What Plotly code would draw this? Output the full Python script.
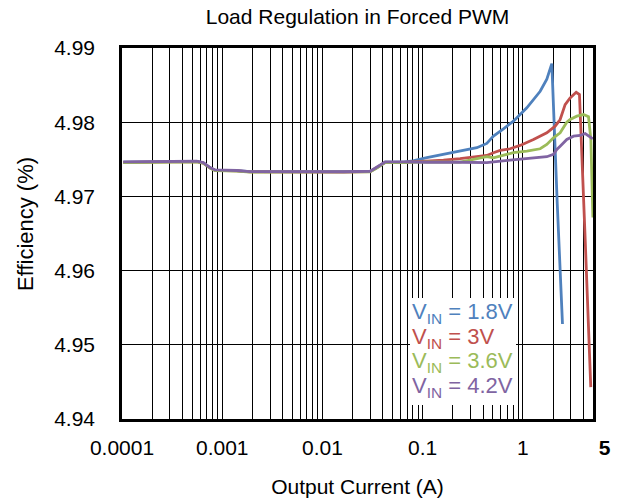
import math
import plotly.graph_objects as go

# ---------------- data ----------------
low_x = [0.000103, 0.000351, 0.000556, 0.000647, 0.000755, 0.000847, 0.001026, 0.001396,
         0.00189, 0.0075, 0.0162, 0.0299, 0.0348, 0.0422, 0.0642]
low_y = [4.97462, 4.97462, 4.97472, 4.97453, 4.97387, 4.97355, 4.97355, 4.97347,
         4.97333, 4.9733, 4.9733, 4.97337, 4.97387, 4.97462, 4.97462]

blue_x = [0.08, 0.110, 0.161, 0.236, 0.347, 0.436, 0.508, 0.639, 0.804, 1.093, 1.486, 1.731, 1.942, 2.20, 2.48]
blue_y = [4.9748, 4.97522, 4.97566, 4.97610, 4.97656, 4.97714, 4.97812, 4.97911, 4.98013, 4.98194,
          4.98417, 4.98580, 4.98789, 4.96900, 4.95281]

red_x = [0.08, 0.110, 0.161, 0.236, 0.347, 0.436, 0.508, 0.592, 0.745, 0.937, 1.274, 1.731, 2.096,
         2.351, 2.636, 2.957, 3.396, 3.664, 4.178, 4.75]
red_y = [4.97465, 4.9747, 4.97489, 4.97508, 4.97535, 4.97552, 4.97589, 4.9762, 4.97642, 4.97687,
         4.97767, 4.97857, 4.97946, 4.98036, 4.98238, 4.98328, 4.98403, 4.98372, 4.96422, 4.94430]

green_x = [0.08, 0.110, 0.236, 0.347, 0.436, 0.508, 0.639, 0.804, 1.093, 1.486, 1.731, 2.017,
           2.351, 2.538, 2.739, 2.957, 3.449, 4.021, 4.511, 4.761, 4.986]
green_y = [4.9746, 4.97465, 4.97462, 4.97508, 4.97535, 4.97521, 4.97552, 4.97589, 4.9761, 4.97642,
           4.977, 4.9779, 4.97857, 4.97925, 4.98000, 4.98036, 4.98081, 4.98103, 4.98073, 4.97767, 4.96715]

purple_x = [0.08, 0.110, 0.236, 0.436, 0.745, 1.093, 1.731, 2.017, 2.178, 2.351, 2.739, 3.193,
            3.724, 4.178, 4.688, 4.98]
purple_y = [4.9746, 4.9746, 4.9746, 4.97454, 4.97489, 4.97508, 4.97535, 4.97566, 4.97633, 4.97677,
            4.97767, 4.97812, 4.97821, 4.97848, 4.97804, 4.97777]

series_names = ["1.8V", "3V", "3.6V", "4.2V"]
series_colors = ["#4F81BD", "#C0504D", "#9BBB59", "#8064A2"]
series_offsets = [0.0, -0.00003, -0.00006, 0.00002]

x_tickvals = [0.0001, 0.001, 0.01, 0.1, 1, 5]
x_ticktext = ["0.0001", "0.001", "0.01", "0.1", "1", "\u00a0\u00a0\u00a0\u00a0<b>5</b>"]
y_range = [4.94, 4.99]

FONT = "Liberation Sans, Arial, sans-serif"

# plot-area geometry (pixels)
L, R, T, B = 122, 593, 48, 419
W, H = 619, 504
PW, PH = R - L, B - T

fig = go.Figure()
tails = [(blue_x, blue_y), (red_x, red_y), (green_x, green_y), (purple_x, purple_y)]
for (tx, ty), name, color, off in zip(tails, series_names, series_colors, series_offsets):
    xs = low_x + tx
    ys = [v + off for v in low_y] + ty
    fig.add_trace(go.Scatter(x=xs, y=ys, mode="lines", name="VIN = " + name,
                             line=dict(color=color, width=2.8), showlegend=False))

# legend box
fig.add_shape(type="rect", xref="paper", yref="paper",
              x0=(410 - L) / PW, x1=(516 - L) / PW,
              y0=(B - 405) / PH, y1=(B - 298) / PH,
              fillcolor="white", line=dict(width=0), layer="above")
line_px = [313, 338, 362, 387]
for name, color, py in zip(series_names, series_colors, line_px):
    fig.add_annotation(xref="paper", yref="paper", x=(410 - L) / PW, y=(B - py) / PH,
                       xanchor="left", yanchor="middle", showarrow=False,
                       text="V<sub>IN</sub> = " + name,
                       font=dict(family=FONT, size=22, color=color))

# y-axis title
fig.add_annotation(xref="paper", yref="paper", x=(25 - L) / PW, y=(B - 224) / PH,
                   xanchor="center", yanchor="middle", showarrow=False, textangle=-90,
                   text="Efficiency (%)", font=dict(family=FONT, size=22, color="black"))

fig.update_layout(
    width=W, height=H,
    margin=dict(l=L, r=W - R, t=T, b=H - B, autoexpand=False),
    paper_bgcolor="white", plot_bgcolor="white",
    font=dict(family=FONT, size=21, color="black"),
    title=dict(text="Load Regulation in Forced PWM", x=0.5, xref="paper",
               y=1 - 17 / H, yanchor="middle", font=dict(size=21, color="black"),
               automargin=False),
)
fig.update_xaxes(
    type="log", range=[math.log10(1e-4), math.log10(5)], automargin=False,
    tickvals=x_tickvals, ticktext=x_ticktext, ticks="", ticklabelstandoff=8,
    showgrid=True, gridcolor="black", gridwidth=1,
    minor=dict(dtick="D1", showgrid=True, gridcolor="black", gridwidth=1, ticks=""),
    showline=True, linecolor="black", linewidth=2.5, mirror=True,
    title=dict(text="Output Current (A)", standoff=22, font=dict(size=21)),
    tickfont=dict(size=21), zeroline=False,
)
fig.update_yaxes(
    range=y_range, dtick=0.01, tickformat=".2f", ticks="", ticklabelstandoff=20,
    automargin=False,
    showgrid=True, gridcolor="black", gridwidth=1,
    showline=True, linecolor="black", linewidth=2.5, mirror=True,
    tickfont=dict(size=21), zeroline=False,
)

fig.write_html("out.html", config={"displayModeBar": False},
               post_script="document.body.style.margin='0';document.body.style.padding='0';")
